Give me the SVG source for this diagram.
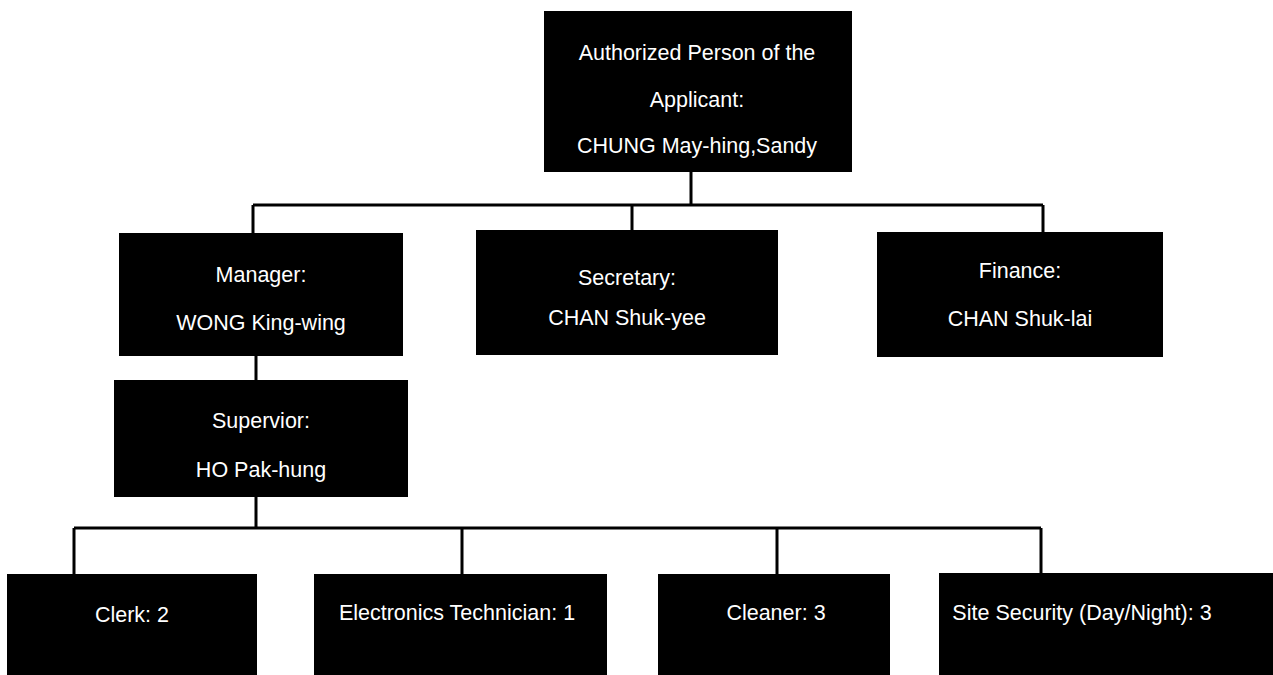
<svg xmlns="http://www.w3.org/2000/svg" width="1273" height="675" viewBox="0 0 1273 675">
<style>
.box{fill:#000;}
.t{fill:#fff;font-family:"Liberation Sans",Arial,sans-serif;font-size:21.5px;text-anchor:middle;}
.ln{stroke:#000;stroke-width:3;fill:none;}
</style>
<rect width="1273" height="675" fill="#fff"/>
<g id="connectors">
<path class="ln" d="M691 172 V205 M253 205 H1043 M253 205 V233 M632 205 V230 M1043 205 V232"/>
<path class="ln" d="M256 356 V380 M256 497 V528 M74 528 H1041 M74 528 V574 M462 528 V574 M777 528 V574 M1041 528 V573"/>
</g>
<g id="n-authorized">
<rect class="box" x="544" y="11" width="308" height="161"/>
<text class="t" x="697" y="60">Authorized Person of the</text>
<text class="t" x="697" y="107">Applicant:</text>
<text class="t" x="697" y="153">CHUNG May-hing,Sandy</text>
</g>
<g id="n-manager">
<rect class="box" x="119" y="233" width="284" height="123"/>
<text class="t" x="261" y="282">Manager:</text>
<text class="t" x="261" y="330">WONG King-wing</text>
</g>
<g id="n-secretary">
<rect class="box" x="476" y="230" width="302" height="125"/>
<text class="t" x="627" y="285">Secretary:</text>
<text class="t" x="627" y="325">CHAN Shuk-yee</text>
</g>
<g id="n-finance">
<rect class="box" x="877" y="232" width="286" height="125"/>
<text class="t" x="1020" y="278">Finance:</text>
<text class="t" x="1020" y="326">CHAN Shuk-lai</text>
</g>
<g id="n-supervisor">
<rect class="box" x="114" y="380" width="294" height="117"/>
<text class="t" x="261" y="428">Supervior:</text>
<text class="t" x="261" y="477">HO Pak-hung</text>
</g>
<g id="n-clerk">
<rect class="box" x="7" y="574" width="250" height="101"/>
<text class="t" x="132" y="622">Clerk: 2</text>
</g>
<g id="n-electronics">
<rect class="box" x="314" y="574" width="293" height="101"/>
<text class="t" x="457" y="620">Electronics Technician: 1</text>
</g>
<g id="n-cleaner">
<rect class="box" x="658" y="574" width="232" height="101"/>
<text class="t" x="776" y="620">Cleaner: 3</text>
</g>
<g id="n-security">
<rect class="box" x="939" y="573" width="334" height="102"/>
<text class="t" x="1082" y="620">Site Security (Day/Night): 3</text>
</g>
</svg>
